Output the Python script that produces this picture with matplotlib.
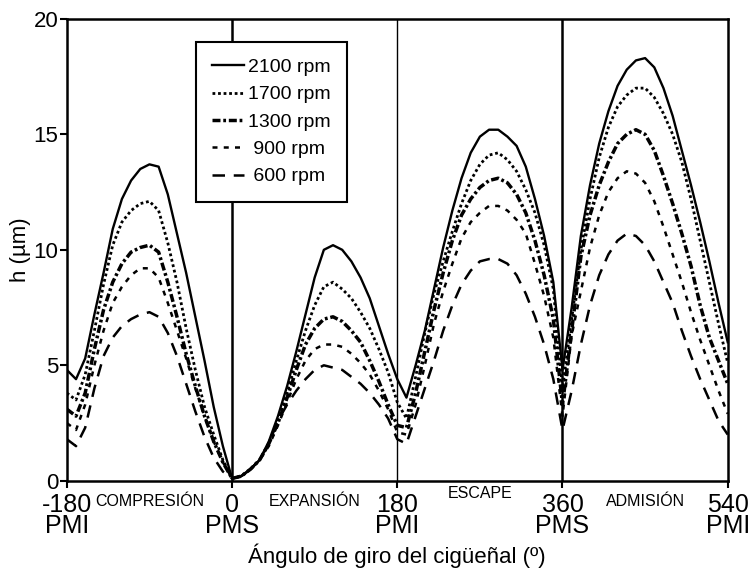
import matplotlib
matplotlib.use('Agg')
import matplotlib.pyplot as plt

plt.rcParams['font.family'] = ['Liberation Sans', 'DejaVu Sans']

angle = list(range(-180, 541, 10))

h_2100 = [4.8, 4.4, 5.3, 7.2, 9.0, 10.9, 12.2, 13.0, 13.5, 13.7, 13.6, 12.4, 10.7, 9.0, 7.1, 5.2, 3.2, 1.5, 0.1,
          0.2, 0.5, 0.9, 1.7, 2.8, 4.1, 5.6, 7.2, 8.8, 10.0, 10.2, 10.0, 9.5, 8.8, 7.9, 6.7, 5.5, 4.4,
          3.6, 5.0, 6.5, 8.3, 10.1, 11.7, 13.1, 14.2, 14.9, 15.2, 15.2, 14.9, 14.5, 13.6, 12.2, 10.6, 8.6, 4.8,
          7.5, 10.6, 12.8, 14.6, 16.0, 17.1, 17.8, 18.2, 18.3, 17.9, 17.0, 15.8, 14.3, 12.8, 11.2, 9.5, 7.7, 6.0]
h_1700 = [3.8, 3.5, 4.6, 6.5, 8.5, 10.2, 11.2, 11.7, 12.0, 12.1, 11.7, 10.3, 8.6, 6.6, 4.8, 3.2, 2.0, 0.9, 0.1,
          0.2, 0.5, 0.9, 1.6, 2.6, 3.8, 5.2, 6.5, 7.6, 8.4, 8.6, 8.3, 7.9, 7.3, 6.6, 5.7, 4.7, 3.4,
          2.7, 4.5, 6.4, 8.1, 9.5, 10.8, 12.0, 13.0, 13.7, 14.1, 14.2, 13.9, 13.4, 12.6, 11.6, 10.2, 8.3, 4.0,
          7.0, 10.0, 12.2, 14.0, 15.3, 16.2, 16.7, 17.0, 17.0, 16.6, 15.9, 15.0, 13.8, 12.2, 10.4, 8.6, 6.8, 5.1]
h_1300 = [3.1, 2.8, 3.8, 5.7, 7.4, 8.6, 9.4, 9.9, 10.1, 10.2, 9.9, 8.6, 7.1, 5.5, 4.1, 2.8, 1.7, 0.8, 0.1,
          0.2, 0.5, 0.9, 1.6, 2.5, 3.6, 4.8, 5.9, 6.6, 7.0, 7.1, 6.9, 6.5, 6.0, 5.2, 4.3, 3.3, 2.4,
          2.3, 3.8, 5.6, 7.4, 9.0, 10.4, 11.5, 12.2, 12.7, 13.0, 13.1, 12.9, 12.4, 11.6, 10.4, 8.9, 7.0, 3.3,
          6.5, 9.7, 11.5, 12.8, 13.8, 14.6, 15.0, 15.2, 15.0, 14.3, 13.2, 12.0, 10.7, 9.3, 7.6, 6.2, 5.2, 4.2]
h_900 = [2.5, 2.2, 3.3, 5.0, 6.5, 7.7, 8.4, 8.9, 9.2, 9.2, 8.8, 7.7, 6.5, 5.3, 4.0, 2.8, 1.7, 0.8, 0.1,
         0.2, 0.5, 0.9, 1.5, 2.4, 3.4, 4.4, 5.2, 5.7, 5.9, 5.9, 5.8, 5.5, 5.1, 4.6, 3.9, 3.1, 2.1,
         2.0, 3.3, 5.0, 6.8, 8.2, 9.4, 10.5, 11.2, 11.6, 11.9, 11.9, 11.7, 11.3, 10.7, 9.4, 8.0, 6.2, 2.8,
         6.3, 8.2, 10.1, 11.5, 12.5, 13.1, 13.4, 13.3, 12.9, 12.1, 11.0, 9.8, 8.6, 7.3, 6.1, 5.0, 3.9, 2.9]
h_600 = [1.8, 1.5, 2.3, 4.0, 5.4, 6.2, 6.7, 7.0, 7.2, 7.3, 7.1, 6.4, 5.4, 4.2, 3.0, 1.9, 1.0, 0.4, 0.1,
         0.2, 0.5, 0.9, 1.6, 2.6, 3.3, 3.9, 4.4, 4.8, 5.0, 4.9, 4.8, 4.5, 4.2, 3.8, 3.3, 2.7, 1.8,
         1.6, 2.8, 4.0, 5.2, 6.5, 7.6, 8.5, 9.1, 9.5, 9.6, 9.6, 9.4, 8.9, 8.1, 7.1, 5.9, 4.4, 2.2,
         3.9, 5.9, 7.6, 8.9, 9.8, 10.4, 10.7, 10.6, 10.2, 9.5, 8.6, 7.7, 6.5, 5.4, 4.4, 3.5, 2.6, 2.0]

tick_pos = [-180, 0, 180, 360, 540]
tick_txt = ['-180\nPMI', '0\nPMS', '180\nPMI', '360\nPMS', '540\nPMI']
strokes = ['COMPRESIÓN', 'EXPANSIÓN', 'ESCAPE', 'ADMISIÓN']
stroke_pos = [-90, 90, 270, 450]

fig = plt.figure(figsize=(7.51, 5.71), dpi=100)
ax = fig.add_axes([0.089, 0.158, 0.880, 0.809])

ax.plot(angle, h_2100, color='black', lw=1.7, ls='-', label='2100 rpm')
ax.plot(angle, h_1700, color='black', lw=2.0, ls=(0, (1, 1)), label='1700 rpm')
ax.plot(angle, h_1300, color='black', lw=2.5, ls=(0, (2.3, 0.8, 0.8, 0.8)), label='1300 rpm')
ax.plot(angle, h_900, color='black', lw=1.8, ls=(0, (2, 2.5)), label=' 900 rpm')
ax.plot(angle, h_600, color='black', lw=1.8, ls=(0, (5, 3.5)), label=' 600 rpm')

# division lines between strokes
ax.axvline(0, color='black', lw=1.8, zorder=1)
ax.axvline(180, color='black', lw=1.0, zorder=1)
ax.axvline(360, color='black', lw=1.8, zorder=1)

ax.set_xlim(-180, 540)
ax.set_ylim(0, 20)
ax.set_xticks(tick_pos)
ax.set_xticklabels(tick_txt, fontsize=18, linespacing=0.85)
ax.set_yticks([0, 5, 10, 15, 20])
ax.tick_params(axis='y', labelsize=16, direction='out', length=5, width=1.5, pad=1)
ax.tick_params(axis='x', direction='out', length=5, width=1.5, pad=3.5)
for s in ax.spines.values():
    s.set_linewidth(1.8)

for name, xp in zip(strokes, stroke_pos):
    dy = 0.018 if name == 'ESCAPE' else 0.0
    ax.text(xp, -0.045 + dy, name, transform=ax.get_xaxis_transform(),
            ha='center', va='center', fontsize=11.5)

ax.set_xlabel('Ángulo de giro del cigüeñal (º)', fontsize=16, labelpad=4)
ax.set_ylabel('h (µm)', fontsize=16, labelpad=2)

leg = ax.legend(loc='upper left', bbox_to_anchor=(0.195, 0.95), borderaxespad=0,
                fontsize=14, frameon=True, fancybox=False, framealpha=1,
                edgecolor='black', handlelength=1.65, handletextpad=0.2,
                labelspacing=0.5, borderpad=0.85)
leg.get_frame().set_linewidth(1.5)
leg.set_zorder(5)

fig.savefig('out.png', dpi=100)
